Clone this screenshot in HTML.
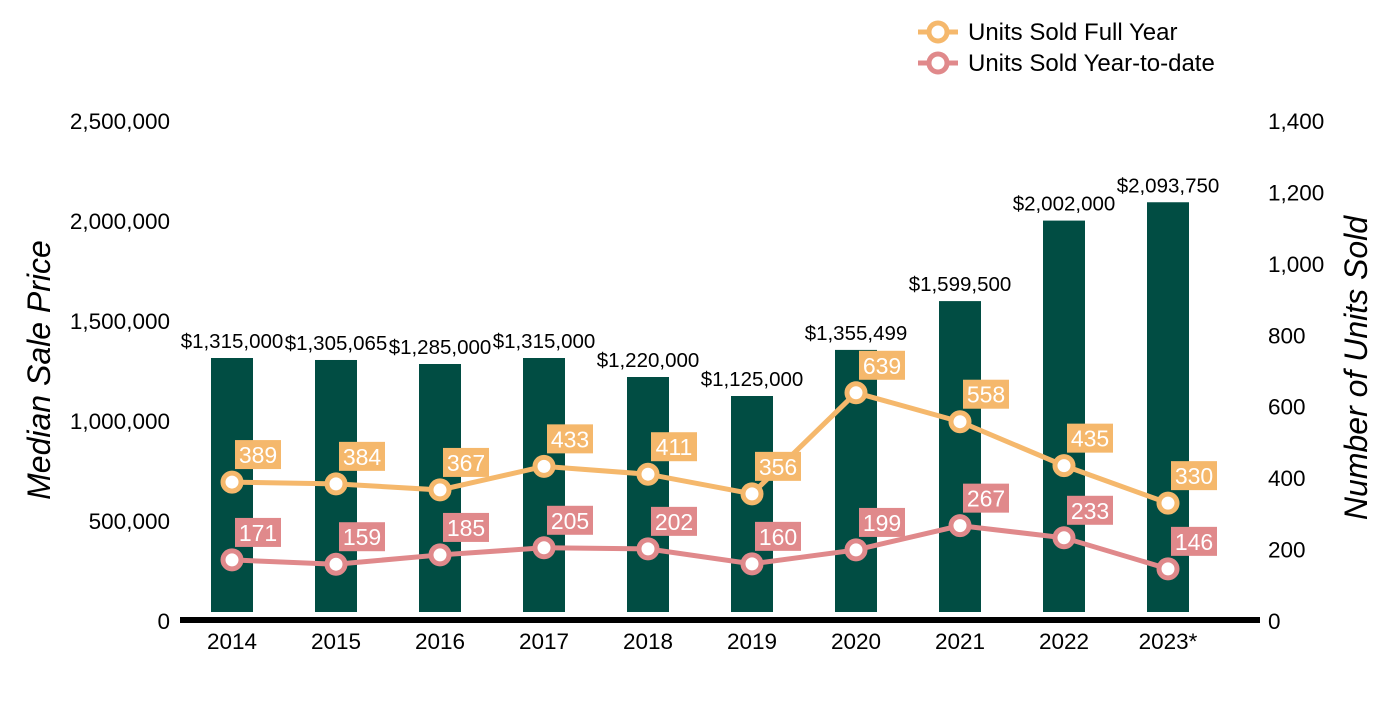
<!DOCTYPE html>
<html><head><meta charset="utf-8"><style>
body{margin:0;background:#fff;width:1400px;height:700px;overflow:hidden;font-family:"Liberation Sans",Arial,sans-serif}
</style></head><body>
<svg id="chart" width="1400" height="700" xmlns="http://www.w3.org/2000/svg" font-family="Liberation Sans, Arial, sans-serif"></svg>
<script>
const years=["2014","2015","2016","2017","2018","2019","2020","2021","2022","2023*"];
const prices=[1315000,1305065,1285000,1315000,1220000,1125000,1355499,1599500,2002000,2093750];
const fullYear=[389,384,367,433,411,356,639,558,435,330];
const ytd=[171,159,185,205,202,160,199,267,233,146];
const leftTicks=[0,500000,1000000,1500000,2000000,2500000];
const rightTicks=[0,200,400,600,800,1000,1200,1400];
const svg=document.getElementById('chart');
const NS='http://www.w3.org/2000/svg';
const y0=621,y1=121;
const yL=v=>y0-(v/2500000)*(y0-y1);
const yR=v=>y0-(v/1400)*(y0-y1);
const xC=i=>232+i*104;
const ORANGE='#f5b86c',PINK='#e0898b',GREEN='#014d43';
function mk(tag,at,name,txt){const e=document.createElementNS(NS,tag);for(const k in at)e.setAttribute(k,at[k]);


if(txt!==undefined)e.textContent=txt;svg.appendChild(e);return e;}
const fmt=n=>n.toLocaleString('en-US');
leftTicks.forEach(t=>mk('text',{x:170,y:yL(t)+8,'text-anchor':'end','font-size':22.5,fill:'#000'},'left-tick-label',fmt(t)));
rightTicks.forEach(t=>mk('text',{x:1268,y:yR(t)+8,'text-anchor':'start','font-size':22.5,fill:'#000'},'right-tick-label',fmt(t)));
mk('text',{x:50,y:370,transform:'rotate(-90 50 370)','text-anchor':'middle','font-size':32,'font-style':'italic',fill:'#000'},'left-axis-title','Median Sale Price');
mk('text',{x:1367,y:368,transform:'rotate(-90 1367 368)','text-anchor':'middle','font-size':32,'font-style':'italic',fill:'#000'},'right-axis-title','Number of Units Sold');
prices.forEach((p,i)=>{
 mk('rect',{x:xC(i)-21,y:yL(p),width:42,height:612-yL(p),fill:GREEN},'bar-'+years[i]);
 mk('text',{x:xC(i),y:yL(p)-10,'text-anchor':'middle','font-size':20.5,fill:'#000'},'bar-value-label','$'+fmt(p));
});
mk('rect',{x:180,y:617,width:1080,height:6,fill:'#000'},'x-axis-line');
years.forEach((y,i)=>mk('text',{x:xC(i),y:649,'text-anchor':'middle','font-size':22.5,fill:'#000'},'x-tick-label',y));
function series(vals,col,name){
 mk('polyline',{points:vals.map((v,i)=>xC(i)+','+yR(v)).join(' '),fill:'none',stroke:col,'stroke-width':5},name+'-line');
 vals.forEach((v,i)=>{
  mk('circle',{cx:xC(i),cy:yR(v),r:9,fill:'#fff',stroke:col,'stroke-width':5},name+'-point');
  mk('rect',{x:xC(i)+3,y:yR(v)-42,width:46,height:29,fill:col},name+'-label-box');
  mk('text',{x:xC(i)+26,y:yR(v)-19,'text-anchor':'middle','font-size':23,fill:'#fff'},name+'-label',String(v));
 });
}
series(fullYear,ORANGE,'full-year');
series(ytd,PINK,'ytd');
[[ORANGE,'Units Sold Full Year',32],[PINK,'Units Sold Year-to-date',63]].forEach(([c,t,y])=>{
 mk('line',{x1:918,y1:y,x2:958,y2:y,stroke:c,'stroke-width':5},'legend-line');
 mk('circle',{cx:938,cy:y,r:9,fill:'#fff',stroke:c,'stroke-width':5},'legend-marker');
 mk('text',{x:968,y:y+8,'font-size':24,fill:'#000'},'legend-entry',t);
});
</script>
</body></html>
